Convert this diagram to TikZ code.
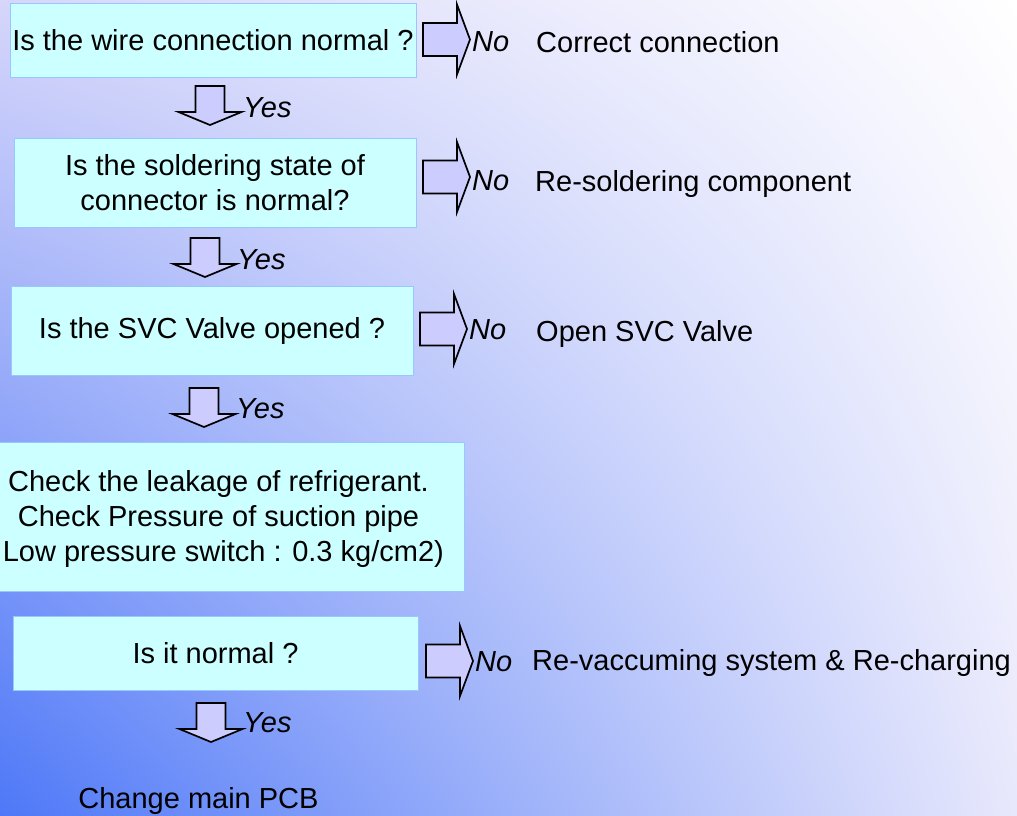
\documentclass[tikz,border=0pt]{standalone}
\usepackage{fontspec}
\setmainfont{Liberation Sans}
\usetikzlibrary{shadings}
\definecolor{boxfill}{RGB}{204,255,255}
\definecolor{boxline}{RGB}{150,200,255}
\definecolor{arrowfill}{RGB}{204,204,255}
\definecolor{bgbl}{RGB}{78,120,248}
\definecolor{bgtl}{RGB}{214,214,250}
\definecolor{bgbr}{RGB}{232,232,252}
\definecolor{bgtr}{RGB}{255,255,255}
\newcommand\RBlockArrow[2]{%
  \draw[barrow] ({#1},{#2-16.5}) -- ({#1+34},{#2-16.5}) -- ({#1+34},{#2-35}) -- ({#1+47},{#2}) -- ({#1+34},{#2+35}) -- ({#1+34},{#2+16.5}) -- ({#1},{#2+16.5}) -- cycle;}
\newcommand\DBlockArrow[2]{%
  \draw[barrow] ({#1-14.5},{#2}) -- ({#1+14.5},{#2}) -- ({#1+14.5},{#2+26}) -- ({#1+31.5},{#2+26}) -- ({#1},{#2+39}) -- ({#1-31.5},{#2+26}) -- ({#1-14.5},{#2+26}) -- cycle;}
\begin{document}
\begin{tikzpicture}[x=1pt,y=-1pt,
  box/.style={draw=boxline,fill=boxfill,line width=1pt,inner sep=0pt,align=center,font=\fontsize{29}{35}\selectfont},
  txt/.style={inner sep=0pt,align=center,font=\fontsize{29}{35}\selectfont},
  lbl/.style={font=\fontsize{29}{35}\selectfont,inner sep=0pt,anchor=base west},
  yn/.style={font=\fontsize{29}{35}\selectfont\itshape,inner sep=0pt,anchor=base west},
  barrow/.style={draw=black,fill=arrowfill,line width=1.7pt,line join=miter}]
\useasboundingbox (0,0) rectangle (1017,815);
\clip (0,0) rectangle (1017,815);
\shade[lower left=bgbl, upper left=bgtl, upper right=bgtr, lower right=bgbr] (0,0) rectangle (1017,815);

% decision boxes
\node[box,minimum width=406pt,minimum height=74pt] (q1) at (213,40) {Is the wire connection normal ?};
\node[box,minimum width=402pt,minimum height=89pt] (q2) at (215,182.5) {Is the soldering state of\\connector is normal?};
\node[box,minimum width=402pt,minimum height=89pt] (q3) at (212,330.5) {Is the SVC Valve opened ?};
\node[box,minimum width=484pt,minimum height=149pt] (q4) at (222,516.5) {};
\node[txt] (q4t) at (218.5,519) {Check the leakage of refrigerant.\\Check Pressure of suction pipe\\\phantom{(}Low pressure switch : 0.3 kg/cm2)};
\node[box,minimum width=405pt,minimum height=74pt] (q5) at (215.5,653) {Is it normal ?};
\node[txt,anchor=base] (end) at (198.5,808) {Change main PCB};

% right (No) arrows
\RBlockArrow{423}{39.5}
\RBlockArrow{423}{177}
\RBlockArrow{420}{329}
\RBlockArrow{426}{661}
\node[yn] (n1) at (472,51) {No};
\node[yn] (n2) at (472,190) {No};
\node[yn] (n3) at (469,339) {No};
\node[yn] (n5) at (475,671) {No};

% actions
\node[lbl] (a1) at (536,52) {Correct connection};
\node[lbl] (a2) at (535,191) {Re-soldering component};
\node[lbl] (a3) at (536,341) {Open SVC Valve};
\node[lbl] (a5) at (532,670) {Re-vaccuming system \& Re-charging};

% down (Yes) arrows
\DBlockArrow{210}{86}
\DBlockArrow{205}{238}
\DBlockArrow{204}{388}
\DBlockArrow{211}{703}
\node[yn] (y1) at (243,117) {Yes};
\node[yn] (y2) at (237,269) {Yes};
\node[yn] (y3) at (236,418) {Yes};
\node[yn] (y5) at (243,732) {Yes};
\end{tikzpicture}
\end{document}
